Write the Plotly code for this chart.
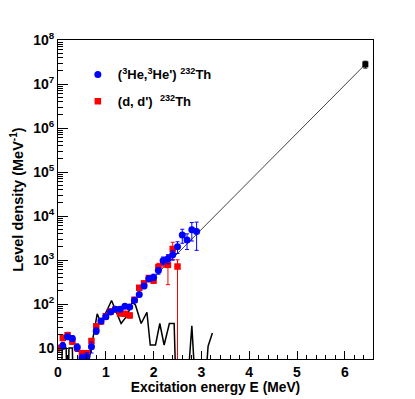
import plotly.graph_objects as go

# (3He,3He') data
he_E = [0.1, 0.2, 0.3, 0.4, 0.5, 0.6, 0.7, 0.8, 0.9, 1.0, 1.1, 1.2, 1.3, 1.4, 1.5,
        1.6, 1.7, 1.8, 1.9, 2.0, 2.1, 2.2, 2.3, 2.4, 2.5, 2.6, 2.7, 2.8, 2.9]
he_rho = [11.3, 18, 16.5, 10.4, 5.9, 6.3, 10.7, 24.5, 41, 51, 66, 76, 76, 89, 85,
          121, 165, 258, 375, 408, 575, 970, 1070, 1320, 2000, 3700, 2830, 4900, 4460]
he_err = [2, 2.5, 2.5, 2, 1.3, 1.5, 3, 4, 5, 6, 7, 8, 8, 10, 10,
          14, 20, 35, 55, 65, 100, 200, 250, 330, 600, 1300, 1100, 2200, 2800]

# (d,d') data
dd_E = [0.0, 0.1, 0.2, 0.3, 0.4, 0.5, 0.6, 0.7, 0.8, 0.9, 1.0, 1.1, 1.2, 1.3, 1.4,
        1.5, 1.6, 1.7, 1.8, 1.9, 2.0, 2.1, 2.2, 2.3, 2.4, 2.5]
dd_rho = [10, 17, 19.6, 14, 10, 7.6, 7.6, 14.4, 31, 40, 53, 68, 75, 61, 60,
          55, 125, 234, 295, 390, 340, 690, 890, 775, 1780, 710]
dd_err_up = [1.5, 2.5, 3, 2, 1.5, 1.2, 1.2, 2, 4, 5, 6, 8, 8, 7, 7,
             7, 15, 25, 35, 45, 45, 150, 200, 500, 750, 300]
dd_err_dn = [1.5, 2.5, 3, 2, 1.5, 1.2, 1.2, 2, 4, 5, 6, 8, 8, 7, 7,
             7, 15, 25, 35, 45, 45, 150, 200, 500, 750, 706]

# discrete levels (known levels, binned)
lev_E = [0.0, 0.06, 0.09, 0.17, 0.19, 0.21, 0.23, 0.30, 0.32, 0.60, 0.63, 0.82, 0.90,
         1.12, 1.32, 1.45, 1.55, 1.62, 1.74, 1.86, 1.93, 2.04, 2.13, 2.22, 2.33, 2.43,
         2.47, 2.70, 2.80, 2.88, 3.07, 3.14, 3.23]
lev_rho = [1, 1, 10, 10, 1, 1, 10, 10, 1, 1, 4, 60, 37,
           120, 36, 55, 110, 95, 36, 65, 11.7, 11.7, 36, 11.7, 36, 36,
           1, 1, 32, 1, 1, 11, 22]

# constant temperature extrapolation to rho(Sn)
ct_E = [1.9, 6.43]
ct_rho = [310, 2.8e7]
sn_E = [6.43]
sn_rho = [2.8e7]
sn_err = [5e6]

FONT = "Liberation Sans"

fig = go.Figure()

fig.add_trace(go.Scatter(x=lev_E, y=lev_rho, mode="lines",
                         line=dict(color="black", width=1.5), showlegend=False))
fig.add_trace(go.Scatter(x=ct_E, y=ct_rho, mode="lines",
                         line=dict(color="#444444", width=1), showlegend=False))
fig.add_trace(go.Scatter(
    x=dd_E, y=dd_rho, mode="markers", name="(d, d')  <sup>232</sup>Th",
    legendgroup="dd", legendrank=2,
    marker=dict(symbol="square", color="#ff0000", size=6.5),
    error_y=dict(type="data", array=dd_err_up, arrayminus=dd_err_dn,
                 color="#ff0000", thickness=1, width=2)))
fig.add_trace(go.Scatter(
    x=he_E, y=he_rho, mode="markers", name="(<sup>3</sup>He,<sup>3</sup>He') <sup>232</sup>Th",
    legendgroup="he", legendrank=1,
    marker=dict(symbol="circle", color="#0000ff", size=7),
    error_y=dict(type="data", array=he_err, color="#0000ff", thickness=1, width=2)))
fig.add_trace(go.Scatter(
    x=sn_E, y=sn_rho, mode="markers", showlegend=False,
    marker=dict(symbol="square", color="black", size=6),
    error_y=dict(type="data", array=sn_err, color="black", thickness=1, width=2)))

decades = [10 ** k for k in range(1, 9)]
dec_text = ["10"] + ["10<sup>%d</sup>" % k for k in range(2, 9)]
minor_vals = [m * 10 ** k for k in range(0, 8) for m in range(2, 10)]

# page body has an 8 px margin, so the figure is 8 px smaller and shifted
fig.update_layout(
    width=407, height=391,
    margin=dict(l=50, r=42, t=32, b=40),
    paper_bgcolor="white", plot_bgcolor="white",
    font=dict(family=FONT, color="black"),
    legend=dict(x=0.063, y=0.939, xanchor="left", yanchor="top",
                traceorder="grouped", tracegroupgap=7,
                bgcolor="rgba(0,0,0,0)",
                font=dict(family=FONT, size=13, weight="bold")),
    xaxis=dict(
        range=[0, 6.59], dtick=1, tick0=0, automargin=False,
        showline=True, linecolor="black", linewidth=1, mirror=True,
        ticks="inside", ticklen=8, tickcolor="black",
        minor=dict(dtick=0.2, ticks="inside", ticklen=4, tickcolor="black"),
        showgrid=False, zeroline=False,
        tickfont=dict(family=FONT, size=14, weight="bold"),
        title=dict(text="Excitation energy E (MeV)", standoff=1,
                   font=dict(family=FONT, size=13.8, weight="bold")),
    ),
    yaxis=dict(
        type="log", range=[0.75, 8], automargin=False,
        tickmode="array", tickvals=decades, ticktext=dec_text,
        showline=True, linecolor="black", linewidth=1, mirror=True,
        ticks="inside", ticklen=10, tickcolor="black",
        minor=dict(tickmode="array", tickvals=minor_vals, ticks="inside",
                   ticklen=5, tickcolor="black"),
        showgrid=False, zeroline=False,
        tickfont=dict(family=FONT, size=14, weight="bold"),
        title=dict(text="Level density (MeV<sup>-1</sup>)", standoff=8,
                   font=dict(family=FONT, size=14.5, weight="bold")),
    ),
)

fig.write_html("out.html")
